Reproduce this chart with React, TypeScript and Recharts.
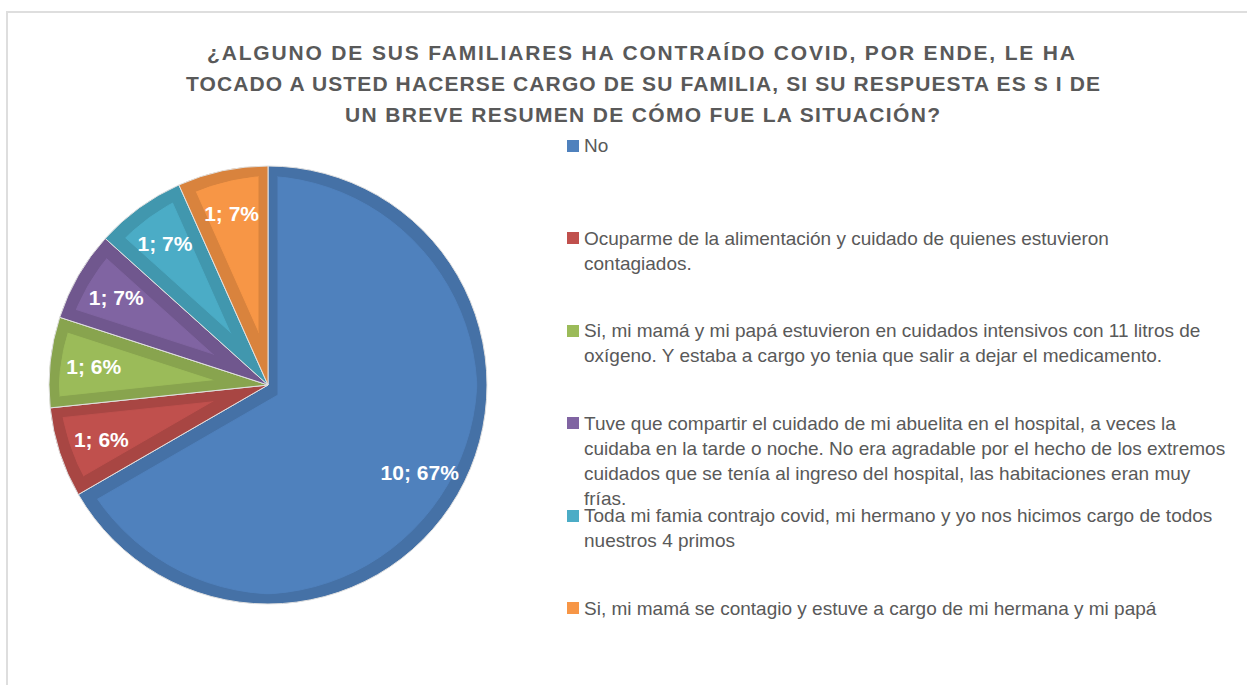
import { PieChart, Pie, Cell, Legend } from "recharts";

// categorías tal como aparecen en la leyenda (los saltos de línea son los del original)
const categories = [
  "No",
  "Ocuparme de la alimentación y cuidado de quienes estuvieron\ncontagiados.",
  "Si, mi mamá y mi papá estuvieron en cuidados intensivos con 11 litros de\noxígeno. Y estaba a cargo yo tenia que salir a dejar el medicamento.",
  "Tuve que compartir el cuidado de mi abuelita en el hospital, a veces la\ncuidaba en la tarde o noche. No era agradable por el hecho de los extremos\ncuidados que se tenía al ingreso del hospital, las habitaciones eran muy\nfrías.",
  "Toda mi famia contrajo covid, mi hermano y yo nos hicimos cargo de todos\nnuestros 4 primos",
  "Si, mi mamá se contagio y estuve a cargo de mi hermana y mi papá",
];
const counts = [10, 1, 1, 1, 1, 1];
const percents = [67, 6, 6, 7, 7, 7];
const colors = ["#4F81BD", "#C0504D", "#9BBB59", "#8064A2", "#4BACC6", "#F79646"];
const titleLines = [
  "¿ALGUNO DE SUS FAMILIARES HA CONTRAÍDO COVID, POR ENDE, LE HA",
  "TOCADO A USTED HACERSE CARGO DE SU FAMILIA, SI SU RESPUESTA ES S I DE",
  "UN BREVE RESUMEN DE CÓMO FUE LA SITUACIÓN?",
];

const data = categories.map((name, i) => ({ name, value: counts[i] }));

const FONT = "'Liberation Sans', Arial, sans-serif";
const GRAY = "#595959";
const RAD = Math.PI / 180;

function renderLabel(p: any) {
  const r = p.outerRadius * 0.8;
  const x = p.cx + r * Math.cos(-p.midAngle * RAD);
  const y = p.cy + r * Math.sin(-p.midAngle * RAD);
  return (
    <text
      x={x}
      y={y}
      fill="#fff"
      textAnchor="middle"
      dominantBaseline="central"
      fontFamily={FONT}
      fontWeight="bold"
      fontSize={21}
    >
      {`${p.value}; ${percents[p.index]}%`}
    </text>
  );
}

function renderLegend(props: any) {
  // la leyenda de Recharts ordena por nombre; se vuelve al orden de los datos
  const payload = (props.payload || [])
    .slice()
    .sort((a: any, b: any) => categories.indexOf(a.value) - categories.indexOf(b.value));
  return (
    <div style={{ fontFamily: FONT }}>
      {payload.map((e: any, i: number) => (
        <div key={i} style={{ position: "relative", height: 92.6, paddingLeft: 19 }}>
          <span
            style={{ position: "absolute", left: 2, top: 6.5, width: 12, height: 12, background: e.color }}
          />
          <div style={{ whiteSpace: "pre", lineHeight: "25px", fontSize: 19, color: GRAY }}>{e.value}</div>
        </div>
      ))}
    </div>
  );
}

export default function App() {
  const widths = [868, 914, 595];
  const centers = [641, 643, 642.5];
  const baselines = [59.5, 90.5, 122];
  return (
    <div style={{ position: "fixed", left: 0, top: 0, width: 1247, height: 685, background: "#fff", overflow: "hidden" }}>
      <svg width={0} height={0} style={{ position: "absolute" }}>
        <defs>
          <filter id="bevel" colorInterpolationFilters="sRGB">
            <feMorphology in="SourceAlpha" operator="erode" radius="10" result="inner" />
            <feComposite in="SourceAlpha" in2="inner" operator="out" result="ring" />
            <feFlood floodColor="#000" floodOpacity="0.12" />
            <feComposite in2="ring" operator="in" result="shade" />
            <feMerge>
              <feMergeNode in="SourceGraphic" />
              <feMergeNode in="shade" />
            </feMerge>
          </filter>
        </defs>
      </svg>
      <div
        style={{
          position: "absolute",
          left: 6,
          top: 11,
          width: 1300,
          height: 700,
          border: "2px solid #DEDEDE",
        }}
      />
      <svg width={1247} height={140} style={{ position: "absolute", left: 0, top: 0 }}>
        {titleLines.map((t, i) => (
          <text
            key={i}
            x={centers[i]}
            y={baselines[i]}
            textAnchor="middle"
            fontFamily={FONT}
            fontWeight="bold"
            fontSize={21}
            fill={GRAY}
            textLength={widths[i]}
            lengthAdjust="spacing"
          >
            {t}
          </text>
        ))}
      </svg>
      <div style={{ position: "absolute", left: 0, top: 0 }}>
        <PieChart width={1247} height={685} margin={{ top: 0, right: 0, bottom: 0, left: 0 }}>
          <Pie
            data={data}
            dataKey="value"
            nameKey="name"
            cx={268}
            cy={385}
            outerRadius={219}
            startAngle={90}
            endAngle={-270}
            stroke="#fff"
            strokeWidth={1}
            label={renderLabel}
            labelLine={false}
            isAnimationActive={false}
          >
            {data.map((_, i) => (
              <Cell key={i} fill={colors[i]} filter="url(#bevel)" />
            ))}
          </Pie>
          <Legend
            layout="vertical"
            align="right"
            verticalAlign="top"
            content={renderLegend}
            wrapperStyle={{ left: 565, top: 133, width: 680 }}
          />
        </PieChart>
      </div>
    </div>
  );
}
